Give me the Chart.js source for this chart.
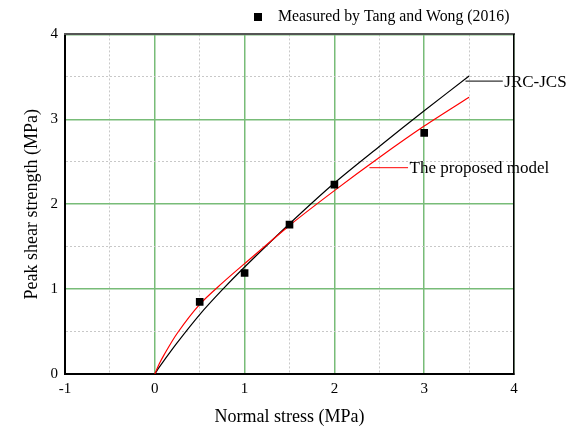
<!DOCTYPE html>
<html><head><meta charset="utf-8">
<script src="https://cdn.jsdelivr.net/npm/chart.js@4/dist/chart.umd.min.js"></script>
<style>html,body{margin:0;padding:0;background:#fff}#wrap{width:583px;height:432px;position:relative}</style>
</head><body><div id="wrap"><canvas id="c"></canvas></div>
<script>
// ---- data ----
const measuredX = [0.5, 1.0, 1.5, 2.0, 3.0];
const measuredY = [0.85, 1.19, 1.76, 2.23, 2.84];
const curveX    = [0, 0.05, 0.1, 0.25, 0.5, 0.75, 1.0, 1.5, 2.0, 2.5, 3.0, 3.5];
const jrcY      = [0, 0.08, 0.155, 0.37, 0.70, 0.99, 1.26, 1.77, 2.25, 2.68, 3.10, 3.51];
const proposedY = [0, 0.12, 0.22, 0.48, 0.82, 1.07, 1.30, 1.75, 2.16, 2.55, 2.92, 3.26];
const xRange = [-1, 4];
const yRange = [0, 4];
const seriesNames = ['Measured by Tang and Wong (2016)', 'JRC-JCS', 'The proposed model'];

const FONT = "'Liberation Serif', 'Times New Roman', serif";
const GREEN = 'rgb(120,188,120)';
const GRAY = 'rgb(200,200,200)';

const toPts = (xs, ys) => xs.map((x, i) => ({x: x, y: ys[i]}));

// legend marker: 8x8 black square drawn on a small canvas
const mark = document.createElement('canvas');
mark.width = 8; mark.height = 8;
const mctx = mark.getContext('2d'); mctx.fillStyle = '#000'; mctx.fillRect(0, 0, 8, 8);

const annotations = [
  {text: seriesNames[1], from: [3.46, 3.45], to: [3.875, 3.45], color: '#000'},
  {text: seriesNames[2], from: [2.39, 2.43], to: [2.82, 2.43], color: '#ff0000'}
];

const annotPlugin = {
  id: 'annot',
  afterDatasetsDraw(chart) {
    const c = chart.ctx, xs = chart.scales.x, ys = chart.scales.y;
    c.save();
    annotations.forEach(a => {
      const x1 = xs.getPixelForValue(a.from[0]), y1 = ys.getPixelForValue(a.from[1]);
      const x2 = xs.getPixelForValue(a.to[0]), y2 = ys.getPixelForValue(a.to[1]);
      c.strokeStyle = a.color; c.lineWidth = 1;
      c.beginPath(); c.moveTo(x1, y1); c.lineTo(x2, y2); c.stroke();
      c.fillStyle = '#000'; c.font = '17px ' + FONT;
      c.textBaseline = 'middle'; c.textAlign = 'left';
      c.fillText(a.text, x2 + 1.5, y2 + 1);
    });
    c.restore();
  }
};

const isInt = v => Math.abs(v - Math.round(v)) < 1e-9;
const gridColor = ctx => (ctx.tick && isInt(ctx.tick.value)) ? GREEN : GRAY;
const gridWidth = ctx => (ctx.tick && isInt(ctx.tick.value)) ? 1.5 : 1;
const gridDash = ctx => (ctx.tick && !isInt(ctx.tick.value)) ? [2, 2] : [];

new Chart(document.getElementById('c'), {
  type: 'scatter',
  data: {
    datasets: [
      {label: seriesNames[0], data: toPts(measuredX, measuredY), pointStyle: 'rect',
       pointRadius: 5.4, backgroundColor: '#000', borderColor: '#000', borderWidth: 0, order: 0},
      {label: seriesNames[1], data: toPts(curveX, jrcY), showLine: true, pointRadius: 0,
       borderColor: '#000', borderWidth: 1.2, tension: 0.3, order: 2},
      {label: seriesNames[2], data: toPts(curveX, proposedY), showLine: true, pointRadius: 0,
       borderColor: '#ff0000', borderWidth: 1.2, tension: 0.3, order: 1}
    ]
  },
  options: {
    responsive: true, maintainAspectRatio: false, animation: false,
    layout: {padding: {left: 0, right: 65, top: 0, bottom: 0}},
    plugins: {
      tooltip: {enabled: false},
      legend: {
        position: 'top', align: 'end',
        labels: {
          filter: item => item.datasetIndex === 0,
          usePointStyle: true, pointStyle: mark, pointStyleWidth: 24,
          boxHeight: 8, padding: 8.6, color: '#000',
          font: {family: FONT, size: 15.8}
        }
      }
    },
    scales: {
      x: {
        type: 'linear', min: xRange[0], max: xRange[1], position: 'bottom',
        afterFit: s => { s.height = 58; },
        ticks: {stepSize: 0.5, autoSkip: false, maxRotation: 0, padding: 6, color: '#000',
                font: {family: FONT, size: 15},
                callback: v => isInt(v) ? String(Math.round(v)) : ''},
        grid: {color: gridColor, lineWidth: gridWidth, drawTicks: false},
        border: {display: true, color: '#000', width: 2, dash: gridDash},
        title: {display: true, text: 'Normal stress (MPa)', color: '#000',
                font: {family: FONT, size: 18}, padding: {top: 0, bottom: 4}}
      },
      y: {
        type: 'linear', min: yRange[0], max: yRange[1], position: 'left',
        afterFit: s => { s.width = 65; },
        ticks: {stepSize: 0.5, autoSkip: false, padding: 7, color: '#000',
                font: {family: FONT, size: 15},
                callback: v => isInt(v) ? String(Math.round(v)) : ''},
        grid: {color: gridColor, lineWidth: gridWidth, drawTicks: false},
        border: {display: true, color: '#000', width: 2, dash: gridDash},
        title: {display: true, text: 'Peak shear strength (MPa)', color: '#000',
                font: {family: FONT, size: 18}, padding: {top: 21, bottom: 0}}
      },
      x2: {
        type: 'linear', position: 'top', min: xRange[0], max: xRange[1],
        afterFit: s => { s.height = 0; },
        ticks: {display: false}, grid: {display: false, drawOnChartArea: false, drawTicks: false},
        border: {display: true, color: '#555', width: 2}
      },
      y2: {
        type: 'linear', position: 'right', min: yRange[0], max: yRange[1],
        afterFit: s => { s.width = 4; },
        ticks: {display: false}, grid: {display: false, drawOnChartArea: false, drawTicks: false},
        border: {display: true, color: '#000', width: 1.5}
      }
    }
  },
  plugins: [annotPlugin]
});
</script>
</body></html>
